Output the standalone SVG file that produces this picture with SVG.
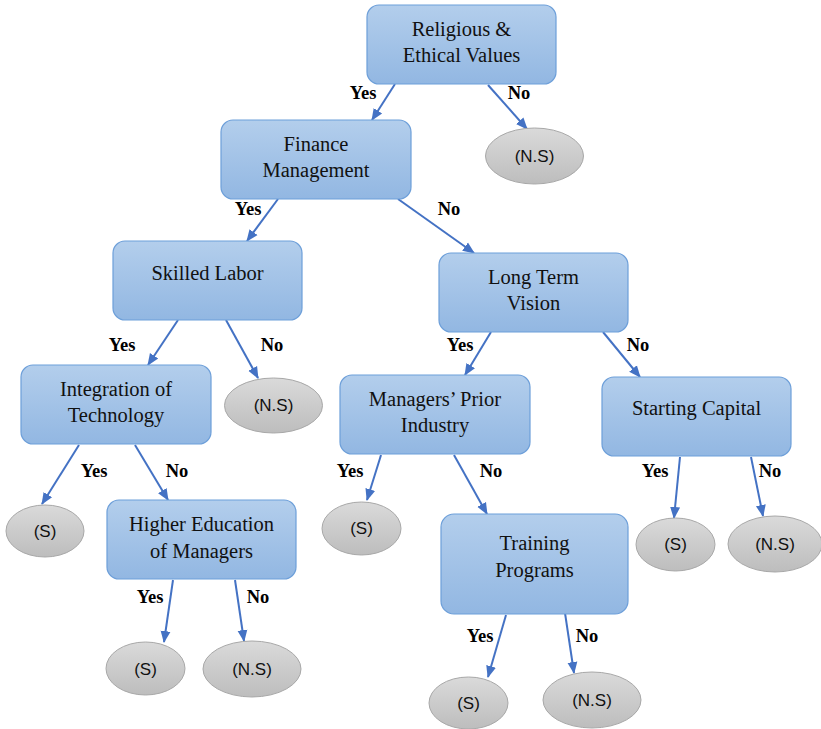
<svg xmlns="http://www.w3.org/2000/svg" width="821" height="729" viewBox="0 0 821 729">
<defs>
<linearGradient id="gb" x1="0" y1="0" x2="0" y2="1">
<stop offset="0" stop-color="#b3ceec"/>
<stop offset="1" stop-color="#92b7e2"/>
</linearGradient>
<linearGradient id="gg" x1="0" y1="0" x2="0" y2="1">
<stop offset="0" stop-color="#dadada"/>
<stop offset="1" stop-color="#bdbdbd"/>
</linearGradient>
<marker id="ah" markerUnits="userSpaceOnUse" markerWidth="12" markerHeight="12" viewBox="0 0 12 12" refX="11" refY="6" orient="auto">
<path d="M0,1 L12,6 L0,11 Z" fill="#4472c4"/>
</marker>
</defs>
<style>
.box{fill:url(#gb);stroke:#6d9fd9;stroke-width:1.2}
.ell{fill:url(#gg);stroke:#a8a8a8;stroke-width:1}
.bt{font-family:"Liberation Serif","Times New Roman",serif;font-size:20.5px;fill:#111;text-anchor:middle}
.et{font-family:"Liberation Sans",Arial,sans-serif;font-size:17px;fill:#111;text-anchor:middle}
.lb{font-family:"Liberation Serif","Times New Roman",serif;font-size:18.5px;font-weight:bold;fill:#000;text-anchor:middle}
.c{stroke:#4472c4;stroke-width:2;fill:none;marker-end:url(#ah)}
</style>
<rect width="821" height="729" fill="#fff"/>
<g id="connectors">
<line class="c" x1="395" y1="84" x2="372" y2="120"/>
<line class="c" x1="488" y1="85" x2="527" y2="129"/>
<line class="c" x1="278" y1="199" x2="247" y2="241"/>
<line class="c" x1="398" y1="199" x2="474" y2="253"/>
<line class="c" x1="178" y1="320" x2="148" y2="365"/>
<line class="c" x1="226" y1="320" x2="258" y2="378"/>
<line class="c" x1="491" y1="332" x2="465" y2="375"/>
<line class="c" x1="603" y1="332" x2="640" y2="377"/>
<line class="c" x1="79" y1="445" x2="42" y2="504"/>
<line class="c" x1="135" y1="445" x2="168" y2="500"/>
<line class="c" x1="381" y1="455" x2="367" y2="500"/>
<line class="c" x1="454" y1="455" x2="487" y2="514"/>
<line class="c" x1="680" y1="457" x2="674" y2="518"/>
<line class="c" x1="751" y1="457" x2="763" y2="516"/>
<line class="c" x1="173" y1="580" x2="164" y2="642"/>
<line class="c" x1="235" y1="580" x2="244" y2="641"/>
<line class="c" x1="506" y1="615" x2="488" y2="677"/>
<line class="c" x1="565" y1="613" x2="574" y2="673"/>
<text class="lb" x="363" y="99">Yes</text>
<text class="lb" x="519" y="99">No</text>
<text class="lb" x="248" y="215">Yes</text>
<text class="lb" x="449" y="215">No</text>
<text class="lb" x="122" y="351">Yes</text>
<text class="lb" x="272" y="351">No</text>
<text class="lb" x="460" y="351">Yes</text>
<text class="lb" x="638" y="351">No</text>
<text class="lb" x="94" y="477">Yes</text>
<text class="lb" x="177" y="477">No</text>
<text class="lb" x="350" y="477">Yes</text>
<text class="lb" x="491" y="477">No</text>
<text class="lb" x="655" y="477">Yes</text>
<text class="lb" x="770" y="477">No</text>
<text class="lb" x="150" y="603">Yes</text>
<text class="lb" x="258" y="603">No</text>
<text class="lb" x="480" y="642">Yes</text>
<text class="lb" x="587" y="642">No</text>
</g>
<g id="n-religious">
<rect class="box" x="367" y="5" width="189" height="79" rx="12"/>
<text class="bt" x="461.5" y="36">Religious &amp;</text>
<text class="bt" x="461.5" y="62">Ethical Values</text>
</g>
<g id="n-finance">
<rect class="box" x="221" y="120" width="190" height="79" rx="12"/>
<text class="bt" x="316" y="151">Finance</text>
<text class="bt" x="316" y="177">Management</text>
</g>
<g id="n-skilled">
<rect class="box" x="113" y="241" width="189" height="79" rx="12"/>
<text class="bt" x="207.5" y="280">Skilled Labor</text>
</g>
<g id="n-ltv">
<rect class="box" x="439" y="253" width="189" height="79" rx="12"/>
<text class="bt" x="533.5" y="284">Long Term</text>
<text class="bt" x="533.5" y="310">Vision</text>
</g>
<g id="n-integration">
<rect class="box" x="21" y="365" width="190" height="79" rx="12"/>
<text class="bt" x="116" y="396">Integration of</text>
<text class="bt" x="116" y="422">Technology</text>
</g>
<g id="n-managers">
<rect class="box" x="340" y="375" width="190" height="79" rx="12"/>
<text class="bt" x="435" y="406">Managers’ Prior</text>
<text class="bt" x="435" y="432">Industry</text>
</g>
<g id="n-starting">
<rect class="box" x="602" y="377" width="189" height="79" rx="12"/>
<text class="bt" x="696.5" y="415">Starting Capital</text>
</g>
<g id="n-highered">
<rect class="box" x="107" y="500" width="189" height="79" rx="12"/>
<text class="bt" x="201.5" y="531">Higher Education</text>
<text class="bt" x="201.5" y="558">of Managers</text>
</g>
<g id="n-training">
<rect class="box" x="441" y="514" width="187" height="100" rx="13"/>
<text class="bt" x="534.5" y="550">Training</text>
<text class="bt" x="534.5" y="577">Programs</text>
</g>
<g id="e-ns1">
<ellipse class="ell" cx="534.5" cy="156" rx="49" ry="28"/>
<text class="et" x="534.5" y="162">(N.S)</text>
</g>
<g id="e-ns2">
<ellipse class="ell" cx="273.5" cy="405.5" rx="49" ry="27.5"/>
<text class="et" x="273.5" y="411">(N.S)</text>
</g>
<g id="e-s1">
<ellipse class="ell" cx="45" cy="531" rx="39" ry="26"/>
<text class="et" x="45" y="537">(S)</text>
</g>
<g id="e-s2">
<ellipse class="ell" cx="361.5" cy="528.5" rx="39.5" ry="26.5"/>
<text class="et" x="361.5" y="534">(S)</text>
</g>
<g id="e-s3">
<ellipse class="ell" cx="675.5" cy="544.5" rx="39.5" ry="26.5"/>
<text class="et" x="675.5" y="550">(S)</text>
</g>
<g id="e-ns3">
<ellipse class="ell" cx="775" cy="544" rx="47" ry="28"/>
<text class="et" x="775" y="550">(N.S)</text>
</g>
<g id="e-s4">
<ellipse class="ell" cx="145.5" cy="668.5" rx="39.5" ry="26.5"/>
<text class="et" x="145.5" y="675">(S)</text>
</g>
<g id="e-ns4">
<ellipse class="ell" cx="252" cy="669" rx="49" ry="28"/>
<text class="et" x="252" y="675">(N.S)</text>
</g>
<g id="e-s5">
<ellipse class="ell" cx="468.5" cy="703" rx="39.5" ry="26"/>
<text class="et" x="468.5" y="709">(S)</text>
</g>
<g id="e-ns5">
<ellipse class="ell" cx="592" cy="700" rx="49" ry="28"/>
<text class="et" x="592" y="706">(N.S)</text>
</g>
</svg>
